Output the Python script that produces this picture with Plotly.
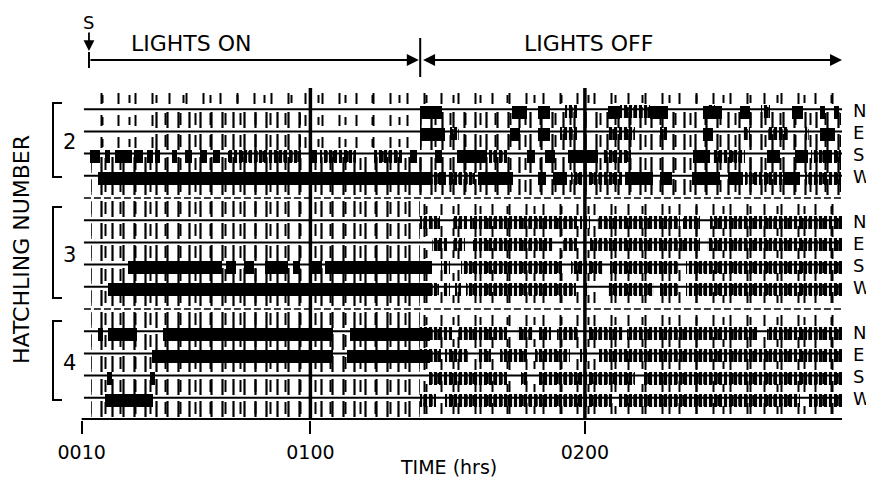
import plotly.graph_objects as go

# ---------------- data (time in minutes after 00:00) ----------------
TICK_VALS = [10, 60, 120]
TICK_TEXT = ["0010", "0100", "0200"]
REC_START = 11.6      # "S" start mark
LIGHTS_OFF = 84.0     # lights switched off (~01:24)
REC_END = 176.2

GROUPS = ["2", "3", "4"]
DIRS = ["N", "E", "S", "W"]

# solid activity blocks per channel  (start, end)
B2N = [(83.9, 88.8), (104.1, 107.3), (109.8, 112.4), (125.0, 127.7), (134.2, 138.2), (145.8, 150.0),
       (153.9, 156.1), (165.3, 167.7), (171.4, 172.5), (174.4, 175.5)]
B2E = [(83.9, 89.4), (103.6, 105.8), (109.8, 112.4), (145.8, 148.0), (171.4, 174.7)]
B2S = [(11.8, 14.0), (15.1, 16.2), (17.3, 21.0), (21.4, 23.4), (24.3, 25.6), (26.0, 27.1), (29.8, 30.8),
       (32.6, 34.1), (35.9, 37.4), (38.7, 40.2), (59.9, 61.4), (81.8, 83.3), (87.2, 88.8), (92.0, 98.6),
       (107.3, 109.1), (111.3, 113.5), (116.3, 122.9), (143.6, 147.3), (159.8, 162.6), (165.9, 168.8),
       (172.0, 174.0)]
B2W = [(13.6, 86.1), (88.2, 89.6), (96.6, 104.3), (109.8, 111.5), (113.0, 116.1), (128.8, 134.9),
       (136.4, 139.0), (143.4, 149.5), (151.3, 154.6), (163.3, 167.0)]
B3N = []
B3E = []
B3S = [(20.1, 40.7), (41.6, 43.7), (45.5, 47.7), (50.1, 55.1), (56.2, 57.7), (60.4, 62.5), (63.2, 86.1)]
B3W = [(15.8, 86.1)]
B4N = [(13.6, 14.7), (15.8, 22.1), (27.8, 64.9), (68.7, 86.1)]
B4E = [(25.4, 64.9), (68.0, 86.1)]
B4S = [(15.5, 16.6), (25.0, 26.0)]
B4W = [(15.1, 25.6)]

# dense bursts of short events per channel (start, end)
C2N = [(115.7, 118.3), (127.7, 134.2), (147.0, 148.5), (158.5, 160.5)]
C2E = [(90.5, 92.5), (114.5, 118.3), (125.0, 131.0), (136.5, 138.0), (154.5, 156.0), (160.0, 164.5),
       (168.0, 169.0)]
C2S = [(42.0, 58.0), (62.0, 70.0), (74.0, 80.0), (99.0, 103.0), (124.0, 130.0), (148.0, 155.0),
       (169.5, 172.0), (174.5, 176.0)]
C2W = [(84.0, 88.0), (90.0, 96.0), (117.0, 128.0), (155.0, 163.0), (168.0, 176.0)]
C3N = [(84.0, 88.3), (91.2, 94.2), (94.9, 118.3), (118.9, 121.1), (122.6, 140.8), (141.4, 145.2),
       (147.3, 176.2)]
C3E = [(86.6, 89.9), (91.2, 93.8), (95.5, 113.0), (115.0, 118.3), (121.1, 145.2), (146.7, 176.2)]
C3S = [(84.0, 86.6), (88.5, 90.5), (93.0, 115.0), (117.0, 124.0), (125.5, 140.5), (142.0, 176.2)]
C3W = [(86.0, 88.0), (89.0, 90.5), (91.5, 93.0), (94.0, 118.0), (119.5, 121.0), (125.0, 135.0),
       (136.5, 140.5), (142.0, 176.2)]
C4N = [(84.0, 91.0), (92.2, 103.0), (105.2, 108.7), (110.0, 112.5), (114.0, 118.5), (120.5, 128.3),
       (129.2, 157.6), (159.8, 176.2)]
C4E = [(84.0, 88.5), (89.5, 94.5), (96.5, 99.5), (101.5, 107.3), (109.0, 116.8), (119.0, 120.5),
       (123.0, 176.2)]
C4S = [(86.0, 103.0), (106.0, 107.5), (110.0, 131.0), (133.0, 176.2)]
C4W = [(84.0, 87.5), (89.5, 126.0), (127.5, 167.0), (169.0, 176.2)]

BLOCKS = [B2N, B2E, B2S, B2W, B3N, B3E, B3S, B3W, B4N, B4E, B4S, B4W]
BURSTS = [C2N, C2E, C2S, C2W, C3N, C3E, C3S, C3W, C4N, C4E, C4S, C4W]

# scattered single events on the recorder lines (row, start, end)
TICKS_LIGHT = [(0, 12, 84), (0, 84, 176), (1, 12, 26), (1, 58, 84), (2, 12, 26), (2, 58, 84),
               (5, 84, 176), (6, 84, 176), (7, 84, 176), (8, 84, 176), (9, 84, 176), (10, 84, 176),
               (11, 84, 176), (12, 84, 176), (13, 84, 176), (14, 84, 176)]
TICKS_MED = [(1, 26, 58), (1, 84, 176), (2, 26, 58), (2, 84, 176), (3, 12, 84), (3, 84, 176),
             (4, 12, 84), (4, 84, 176), (5, 12, 84), (6, 12, 84), (7, 12, 84), (8, 12, 84), (9, 12, 84),
             (10, 12, 84), (11, 12, 84), (12, 12, 84), (13, 12, 84), (14, 12, 84)]

# ---------------- layout helpers (screen pixels; page body has an 8px margin) ----------------
SW, SH = 874, 487
OFF = 8
FW, FH = SW - OFF, SH - OFF        # figure size that fits the window
PX0, PXM = 35.9, 4.575             # screen x = PX0 + PXM * t
ROW_Y0, ROW_DY = 87.0, 22.2        # recorder line positions (screen y)
PLOT_BOTTOM = 420                  # screen y of the time axis
XR = [(OFF - PX0) / PXM, (SW - PX0) / PXM]


def row_y(r):
    return ROW_Y0 + r * ROW_DY


def t_of_px(px):
    return (px - PX0) / PXM


def paper_y(sy):
    return (PLOT_BOTTOM - sy) / (PLOT_BOTTOM - OFF)


CH_ROWS = [1 + g * 5 + d for g in range(3) for d in range(4)]

fig = go.Figure()
CLEAR = "rgba(0,0,0,0)"


def hbar(items, off, height, marker):
    base, dx, yy, ww = [], [], [], []
    for r, s, e in items:
        base.append(s)
        dx.append(e - s)
        yy.append(row_y(r) + off)
        ww.append(height)
    fig.add_trace(go.Bar(orientation="h", base=base, x=dx, y=yy, width=ww, marker=marker,
                         hoverinfo="skip", showlegend=False))


def hatch(size, stroke):
    return dict(color=CLEAR, line=dict(width=0),
                pattern=dict(shape="|", size=size, solidity=stroke / size, fgcolor="black",
                             bgcolor=CLEAR, fgopacity=1))


# scattered ticks: overlaid spacings give an uneven comb
hbar(TICKS_LIGHT, 11, 11, hatch(17, 2.0))
hbar(TICKS_LIGHT, 12, 8, hatch(27, 2.0))
hbar(TICKS_MED, 11, 16, hatch(11, 2.2))
hbar(TICKS_MED, 10, 12, hatch(15, 2.0))

burst_items = [(CH_ROWS[i], s, e) for i, lst in enumerate(BURSTS) for s, e in lst]
hbar(burst_items, 2.5, 13, hatch(5, 3.2))
hbar(burst_items, 3.0, 11, hatch(7, 2.4))

block_items = [(CH_ROWS[i], s, e) for i, lst in enumerate(BLOCKS) for s, e in lst]
hbar(block_items, 3, 13, dict(color="black", line=dict(width=0)))

# recorder base lines
bx, by = [], []
for r in CH_ROWS:
    bx += [10.5, REC_END, None]
    by += [row_y(r), row_y(r), None]
fig.add_trace(go.Scatter(x=bx, y=by, mode="lines", line=dict(color="black", width=2),
                         hoverinfo="skip", showlegend=False))
mx, my = [], []
for r in [5, 10]:
    mx += [10.5, REC_END, None]
    my += [row_y(r), row_y(r), None]
fig.add_trace(go.Scatter(x=mx, y=my, mode="lines", line=dict(color="black", width=1.5, dash="7px,3px"),
                         hoverinfo="skip", showlegend=False))

# hour lines and time axis line
fig.add_trace(go.Scatter(x=[60, 60, None, 120, 120], y=[88, PLOT_BOTTOM, None, 88, PLOT_BOTTOM],
                         mode="lines", line=dict(color="black", width=3.5),
                         hoverinfo="skip", showlegend=False))
fig.add_trace(go.Scatter(x=[TICK_VALS[0], REC_END], y=[PLOT_BOTTOM - 1, PLOT_BOTTOM - 1], mode="lines",
                         line=dict(color="black", width=2.2), hoverinfo="skip", showlegend=False))

# header: start mark + light periods
fig.add_trace(go.Scatter(x=[REC_START, REC_START, None, LIGHTS_OFF, LIGHTS_OFF],
                         y=[52, 68, None, 38, 77], mode="lines", line=dict(color="black", width=2),
                         hoverinfo="skip", showlegend=False))

ann = []
FONT = "DejaVu Sans"
ann.append(dict(x=REC_START, y=22, xref="x", yref="y", text="S", showarrow=False,
                font=dict(family=FONT, size=18, color="black")))
ann.append(dict(x=REC_START, y=51, ax=REC_START, ay=31, xref="x", yref="y", axref="x", ayref="y",
                text="", showarrow=True, arrowhead=2, arrowsize=1.2, arrowwidth=1.8, arrowcolor="black"))
ann.append(dict(x=LIGHTS_OFF - 0.3, y=60, ax=REC_START, ay=60, xref="x", yref="y", axref="x", ayref="y",
                text="", showarrow=True, arrowhead=2, arrowsize=1.2, arrowwidth=2, arrowcolor="black"))
ann.append(dict(x=REC_END, y=60, ax=LIGHTS_OFF + 0.3, ay=60, xref="x", yref="y", axref="x", ayref="y",
                text="", showarrow=True, arrowhead=2, arrowside="end+start", arrowsize=1.2,
                arrowwidth=2, arrowcolor="black"))
ann.append(dict(x=t_of_px(191), y=43, xref="x", yref="y", text="LIGHTS ON",
                showarrow=False, font=dict(family=FONT, size=22, color="black")))
ann.append(dict(x=t_of_px(588), y=43, xref="x", yref="y", text="LIGHTS OFF",
                showarrow=False, font=dict(family=FONT, size=22, color="black")))

# left: y title, brackets, hatchling numbers
ann.append(dict(x=t_of_px(21), y=250, xref="x", yref="y", text="HATCHLING NUMBER", textangle=-90,
                showarrow=False, font=dict(family=FONT, size=22, color="black")))
BRACKETS = [(103, 177), (207, 298), (321, 400)]
kx, ky = [], []
for (top, bot), g in zip(BRACKETS, GROUPS):
    kx += [t_of_px(62), t_of_px(53), t_of_px(53), t_of_px(62), None]
    ky += [top, top, bot, bot, None]
    ann.append(dict(x=t_of_px(69), y=(top + bot) / 2 + 2, xref="x", yref="y", text=g, showarrow=False,
                    font=dict(family=FONT, size=21, color="black")))
fig.add_trace(go.Scatter(x=kx, y=ky, mode="lines", line=dict(color="black", width=2),
                         hoverinfo="skip", showlegend=False))

# right: compass direction labels
for i, r in enumerate(CH_ROWS):
    ann.append(dict(x=t_of_px(851), y=row_y(r) + 1, xref="x", yref="y", xanchor="left",
                    text=DIRS[i % 4], showarrow=False, font=dict(family=FONT, size=18, color="black")))

ann.append(dict(x=t_of_px(448), y=paper_y(467), xref="x", yref="paper", yanchor="middle",
                text="TIME (hrs)", showarrow=False, font=dict(family=FONT, size=19, color="black")))

fig.update_layout(
    width=FW, height=FH, margin=dict(l=0, r=0, t=0, b=FH - (PLOT_BOTTOM - OFF)),
    paper_bgcolor="white", plot_bgcolor="white", barmode="overlay", bargap=0,
    annotations=ann, showlegend=False,
    xaxis=dict(range=XR, showgrid=False, zeroline=False, showline=False, ticks="outside",
               ticklen=13, tickwidth=2, tickcolor="black", tickvals=TICK_VALS, ticktext=TICK_TEXT,
               ticklabelstandoff=2,
               tickfont=dict(family=FONT, size=19, color="black"), fixedrange=True),
    yaxis=dict(range=[PLOT_BOTTOM, OFF], visible=False, fixedrange=True),
)

fig.write_html("out.html")
